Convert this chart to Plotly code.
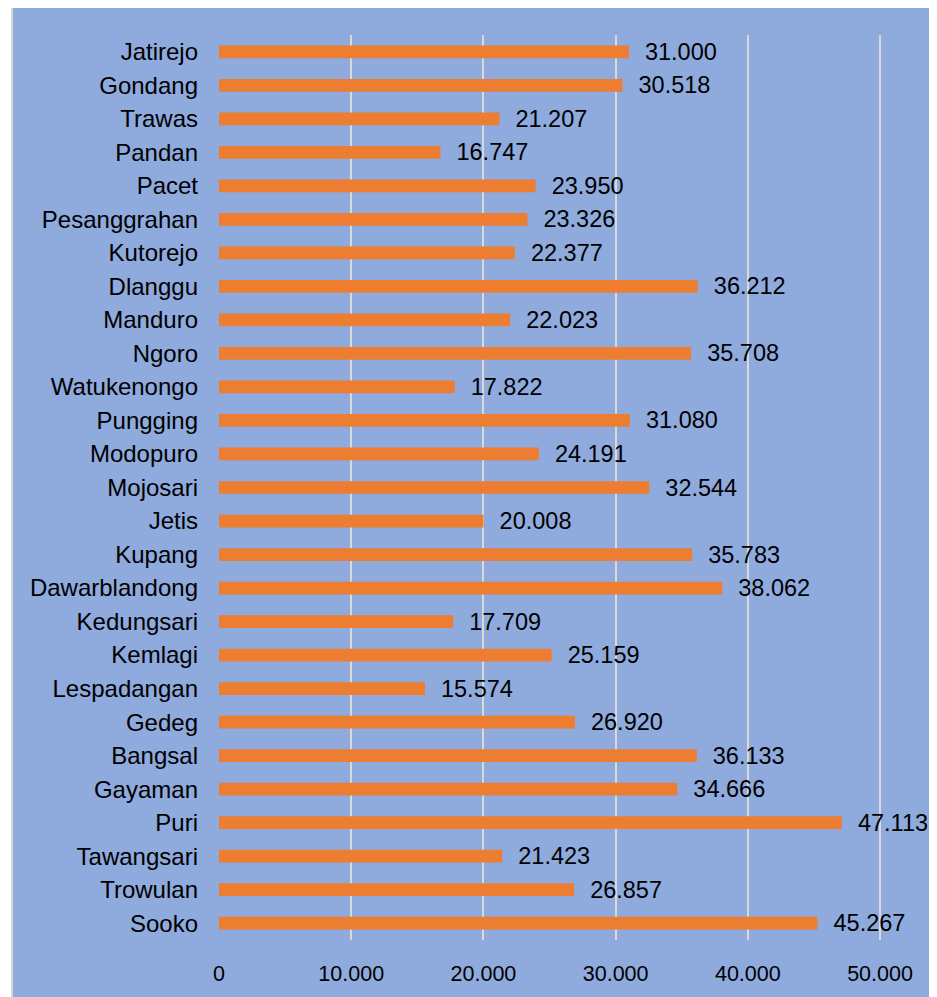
import plotly.graph_objects as go

categories = ["Jatirejo", "Gondang", "Trawas", "Pandan", "Pacet", "Pesanggrahan", "Kutorejo",
              "Dlanggu", "Manduro", "Ngoro", "Watukenongo", "Pungging", "Modopuro", "Mojosari",
              "Jetis", "Kupang", "Dawarblandong", "Kedungsari", "Kemlagi", "Lespadangan", "Gedeg",
              "Bangsal", "Gayaman", "Puri", "Tawangsari", "Trowulan", "Sooko"]
values = [31000, 30518, 21207, 16747, 23950, 23326, 22377,
          36212, 22023, 35708, 17822, 31080, 24191, 32544,
          20008, 35783, 38062, 17709, 25159, 15574, 26920,
          36133, 34666, 47113, 21423, 26857, 45267]
tick_vals = [0, 10000, 20000, 30000, 40000, 50000]

BG = "#8FAADC"
OFF = 8  # page body margin
W, H = 937 - OFF, 997 - OFF
XMAX = 50300
scale = (880 - 219) / 50000.0
L, T, B = 219 - OFF, 35 - OFF, 57
pw = XMAX * scale
R = W - L - pw
ph = H - T - B

def px_x(p):
    return (p - OFF - L) / pw

def px_y(p):
    return 1 - (p - OFF - T) / ph

fig = go.Figure(go.Bar(
    x=values, y=categories, orientation="h",
    marker=dict(color="#ED7D31", line=dict(width=0)),
    width=0.38,
    texttemplate="\u00a0\u00a0%{x:,.0f}",
    textposition="outside",
    constraintext="none",
    textfont=dict(family="Liberation Sans, Arial", size=23.5, color="#000000"),
    cliponaxis=False,
))

fig.update_layout(
    width=W, height=H,
    margin=dict(l=L, r=R, t=T, b=B),
    paper_bgcolor="white",
    plot_bgcolor=BG,
    separators=",.",
    showlegend=False,
    font=dict(family="Liberation Sans, Arial", color="#000000"),
    shapes=[dict(type="rect", xref="paper", yref="paper", layer="below",
                 x0=px_x(12), x1=px_x(940), y0=px_y(1000), y1=px_y(5),
                 fillcolor=BG, line=dict(color="#D9D9D9", width=2))],
)
fig.update_xaxes(range=[0, XMAX], tickvals=tick_vals, tickformat=",.0f",
                 showgrid=True, gridcolor="#D9D9D9", gridwidth=1.5,
                 zeroline=False, showline=False, ticks="",
                 tickfont=dict(size=21.5, color="#000000"), ticklabelstandoff=18)
fig.update_yaxes(autorange="reversed", showgrid=False, showline=False, ticks="",
                 tickfont=dict(size=24, color="#000000"), ticklabelstandoff=20)

fig.write_html("out.html")
